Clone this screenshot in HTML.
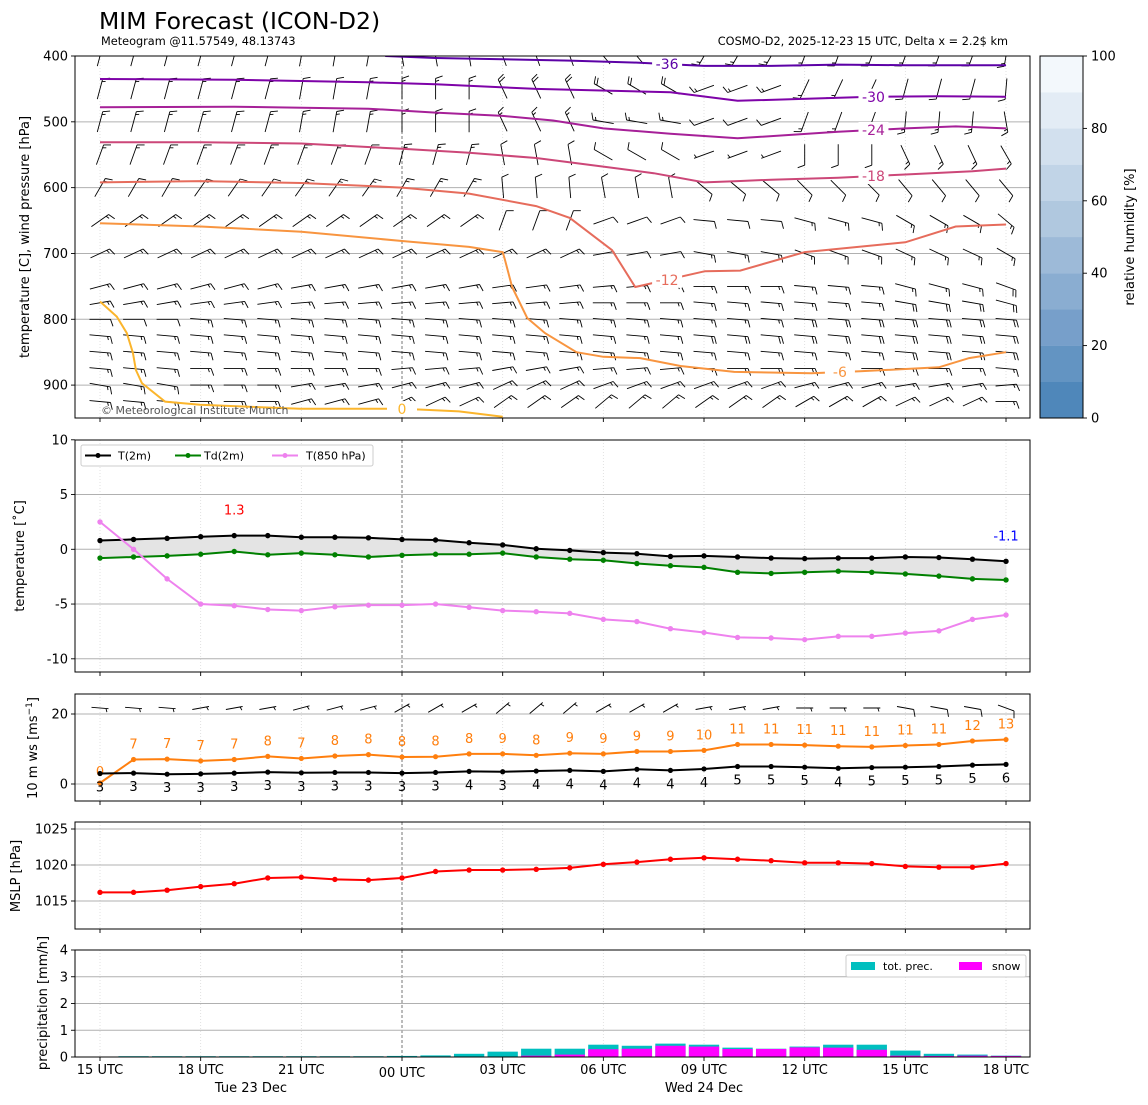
<!DOCTYPE html>
<html><head><meta charset="utf-8"><title>MIM Forecast (ICON-D2)</title>
<style>
html,body{margin:0;padding:0;background:#fff;}
svg{display:block;font-family:"DejaVu Sans","Liberation Sans",sans-serif;}
</style></head>
<body>
<svg id="chart" width="1148" height="1105" viewBox="0 0 1148 1105" xmlns="http://www.w3.org/2000/svg">
<defs>
<clipPath id="clipTop"><rect x="75" y="56" width="955" height="362"/></clipPath>
</defs>
<text x="99" y="29" font-size="23.5">MIM Forecast (ICON-D2)</text>
<text x="101" y="45" font-size="11.3">Meteogram @11.57549, 48.13743</text>
<text x="1008" y="45" font-size="11.3" text-anchor="end">COSMO-D2, 2025-12-23 15 UTC, Delta x = 2.2$ km</text>
<g id="layer"></g>
</svg>
<script>
// ---------- data ----------
const hours = [0,1,2,3,4,5,6,7,8,9,10,11,12,13,14,15,16,17,18,19,20,21,22,23,24,25,26,27];
const xTickHours = [0,3,6,9,12,15,18,21,24,27];
const xTickLabels = ["15 UTC","18 UTC","21 UTC","00 UTC","03 UTC","06 UTC","09 UTC","12 UTC","15 UTC","18 UTC"];
const dayLabels = ["Tue 23 Dec","Wed 24 Dec"];
const dayLabelHours = [4.5,18];

const pressureTicks = [400,500,600,700,800,900];
const barbLevels = [400,450,500,550,600,650,700,750,775,800,825,850,875,900,925];
const barbDir = [
 [75,75,80,100,110,130,240,250,250,260],
 [75,75,80,90,115,150,200,245,255,265],
 [75,75,80,90,115,170,200,250,265,280],
 [70,70,70,75,100,150,200,270,295,300],
 [60,55,55,60,95,100,320,315,310,310],
 [35,35,35,35,70,20,355,345,330,320],
 [25,25,25,25,25,10,350,340,335,330],
 [15,15,10,10,8,5,0,355,345,340],
 [10,8,5,5,5,0,355,355,350,345],
 [0,355,355,355,355,355,355,355,355,355],
 [355,355,355,355,355,355,355,355,355,355],
 [355,355,355,355,355,355,355,355,355,355],
 [355,0,0,5,10,5,0,0,0,355],
 [350,0,10,15,25,20,20,15,10,5],
 [355,0,15,25,35,40,35,30,25,0]
];
const barbSpeed = [
 [15,15,15,15,15,15,15,15,15,15],
 [15,15,15,15,20,20,15,15,15,15],
 [15,15,15,15,15,15,10,15,15,15],
 [15,15,15,15,10,10,5,10,15,15],
 [15,15,15,15,10,10,10,10,10,10],
 [15,15,15,15,10,10,10,15,15,15],
 [15,15,15,15,15,10,15,15,15,15],
 [15,15,15,15,15,15,15,15,15,20],
 [15,15,15,15,15,15,15,15,20,20],
 [10,15,15,15,15,15,15,20,20,20],
 [15,15,15,15,15,15,20,20,20,20],
 [15,15,15,15,15,15,15,15,20,20],
 [15,15,15,15,15,15,15,15,15,15],
 [15,15,15,15,15,15,15,15,15,15],
 [15,15,15,15,15,15,15,15,15,15]
];
const isoLevels = [-36,-30,-24,-18,-12,-6,0];
const isoColors = ["#5c01a6","#7e03a8","#a62098","#cc4778","#e66c5c","#f89540","#fbb52c"];
const isoH = [
 [8.5,10,12,14,16,18,20,22,24,27],
 [0,4,6,8,10,13,17,19,23,25,27],
 [0,4,8,10,12,13.5,15,17,19,22,24,25.5,27],
 [0,3,6,9,11,13,15,16.5,18,19,20,22,24,26,27],
 [0,3,6,9,11,13,14,15.26,15.95,18.03,19.08,21,24,25.5,27],
 [0,3,6,9,11,12,12.07,12.28,12.73,13.26,14.2,15,16.1,17.3,18.9,21.2,22.65,25,25.9,27],
 [0,0.5,0.8,0.98,1.07,1.25,1.94,2.98,5.96,8.64,9.5,10.7,12]
];
const isoP = [
 [400,403,405,407,410,415,415,413,414,414],
 [435,436,438,440,443,450,455,468,462,461,462],
 [478,477,480,486,491,498,510,518,525,515,510,507,510],
 [531,531,533,541,547,555,568,578,592,590,588,585,580,575,571],
 [592,590,593,600,609,628,646,695,751,727,726,698,683,659,656],
 [654,659,667,681,690,698,710,751,798,821,850,857,859,871,880,882,879,873,859,850],
 [773,796,821,851,877,897,925,930,936,936,937,940,948]
];
const isoLabelH = [16.9,23.05,23.05,23.05,16.9,22.05,9];
const rhTicks = [0,20,40,60,80,100];

const tempTicks = [10,5,0,-5,-10];
const t2m  = [0.8,0.9,1.0,1.15,1.25,1.25,1.1,1.1,1.05,0.9,0.85,0.6,0.4,0.05,-0.1,-0.3,-0.4,-0.65,-0.6,-0.7,-0.8,-0.85,-0.8,-0.8,-0.7,-0.75,-0.9,-1.1];
const td2m = [-0.8,-0.7,-0.6,-0.45,-0.2,-0.5,-0.35,-0.5,-0.7,-0.55,-0.45,-0.45,-0.35,-0.7,-0.9,-1.0,-1.3,-1.5,-1.65,-2.1,-2.2,-2.1,-2.0,-2.1,-2.25,-2.45,-2.7,-2.8];
const t850 = [2.5,0.0,-2.7,-5.0,-5.15,-5.5,-5.6,-5.25,-5.1,-5.1,-5.0,-5.3,-5.6,-5.7,-5.85,-6.4,-6.6,-7.25,-7.6,-8.05,-8.1,-8.25,-7.95,-7.95,-7.65,-7.45,-6.4,-6.0];
const tMaxLabel = "1.3", tMinLabel = "-1.1";

const windTicks = [20,0];
const ws10   = [3,3.1,2.8,2.9,3.1,3.4,3.2,3.3,3.3,3.1,3.3,3.6,3.5,3.7,3.9,3.6,4.2,3.9,4.3,5.0,5.0,4.8,4.5,4.7,4.8,5.0,5.4,5.6];
const wsLabels = [3,3,3,3,3,3,3,3,3,3,3,4,3,4,4,4,4,4,4,5,5,5,4,5,5,5,5,6];
const gust   = [0.3,7,7.1,6.6,7.0,7.9,7.3,8.0,8.4,7.7,7.8,8.6,8.6,8.2,8.8,8.6,9.3,9.3,9.6,11.3,11.3,11.1,10.8,10.6,11.0,11.3,12.3,12.7];
const gustLabels = [0,7,7,7,7,8,7,8,8,8,8,8,9,8,9,9,9,9,10,11,11,11,11,11,11,11,12,13];
const wind10Dir = [355,10,15,30,40,30,10,0,350,340];
const wind10Spd = [5,5,5,5,5,5,5,5,10,10];

const mslpTicks = [1025,1020,1015];
const mslp = [1016.2,1016.2,1016.5,1017.0,1017.4,1018.2,1018.3,1018.0,1017.9,1018.2,1019.1,1019.3,1019.3,1019.4,1019.6,1020.1,1020.4,1020.8,1021.0,1020.8,1020.6,1020.3,1020.3,1020.2,1019.8,1019.7,1019.7,1020.2];

const precTicks = [0,1,2,3,4];
const precHours = [1,2,3,4,5,6,7,8,9,10,11,12,13,14,15,16,17,18,19,20,21,22,23,24,25,26,27];
const totPrec = [0.03,0.03,0.03,0.03,0.03,0.03,0.03,0.03,0.04,0.06,0.12,0.2,0.31,0.31,0.46,0.42,0.5,0.46,0.35,0.31,0.39,0.46,0.46,0.24,0.12,0.09,0.05];
const snowPrec = [0,0,0,0,0,0,0,0,0,0,0,0,0.05,0.09,0.29,0.31,0.42,0.39,0.3,0.3,0.36,0.35,0.27,0.05,0.04,0.05,0.04];

// ---------- scales ----------
const X0=75, X1=1030;
const xs = h => 100 + h*33.556;
const panels = {
  top:{y0:56,y1:418}, temp:{y0:440,y1:672}, wind:{y0:694,y1:801}, mslp:{y0:822,y1:929}, prec:{y0:950,y1:1057}
};
const yP = p => 56 + (p-400)*0.6582;
const yT = t => 549.3 - t*10.95;
const yW = v => 784 - v*3.5;
const yM = p => 865 - (p-1020)*7.2;
const yR = r => 1057 - r*26.75;

const NS="http://www.w3.org/2000/svg";
const layer=document.getElementById('layer');
function mk(tag, attrs, parent){
  const e=document.createElementNS(NS,tag);
  for(const k in attrs) e.setAttribute(k,attrs[k]);
  (parent||layer).appendChild(e);
  return e;
}
function txt(s, x, y, size, fill, anchor, parent){
  const t=mk('text',{x:x,y:y,'font-size':size,fill:fill||'#000','text-anchor':anchor||'start'},parent);
  t.textContent=s; return t;
}
function pts(xa, ya){ return xa.map((v,i)=>v.toFixed(1)+','+ya[i].toFixed(1)).join(' '); }

function panelFrame(name, p){
  const g=mk('g',{});
  
  
  xTickHours.forEach((h,i)=>{
    const l=mk('line',{x1:xs(h),x2:xs(h),y1:p.y0,y2:p.y1,stroke:(i===3?'#555':'#dadada'),'stroke-width':0.8,'stroke-dasharray':(i===3?'3,2':'1,2')},g);
    
    
    const t=mk('line',{x1:xs(h),x2:xs(h),y1:p.y1,y2:p.y1+4,stroke:'#000','stroke-width':0.9},g);
    
    
  });
  return g;
}
function hGrid(g, name, ys){
  ys.forEach(y=>{
    const l=mk('line',{x1:X0,x2:X1,y1:y,y2:y,stroke:'#b0b0b0','stroke-width':1},g);
    
    
  });
}
function yTicks(g, name, vals, fy){
  vals.forEach(v=>{
    const y=fy(v);
    mk('line',{x1:X0-4,x2:X0,y1:y,y2:y,stroke:'#000','stroke-width':0.9},g);
    const t=txt(String(v), X0-7, y+4.5, 13, '#000', 'end', g);
    
    
  });
}
function frame(g, name, p){
  const r=mk('rect',{x:X0,y:p.y0,width:X1-X0,height:p.y1-p.y0,fill:'none',stroke:'#000','stroke-width':1},g);
  
  
}
function yLabel(s, x, y, name){
  const t=txt(s, 0, 0, 13, '#000', 'middle');
  t.setAttribute('transform','translate('+x+','+y+') rotate(-90)');
  
  
  return t;
}
function barb(parent, cx, cy, ang, kt, L){
  const a=ang*Math.PI/180, dx=Math.cos(a), dy=-Math.sin(a);
  const px=-dy, py=dx;
  const sx=cx-dx*L/2, sy=cy-dy*L/2, ex=cx+dx*L/2, ey=cy+dy*L/2;
  let d='M'+sx.toFixed(1)+' '+sy.toFixed(1)+'L'+ex.toFixed(1)+' '+ey.toFixed(1);
  let rem=Math.round(kt/5)*5, pos=0;
  while(rem>=10){
    const bx=ex-dx*pos, by=ey-dy*pos;
    d+='M'+bx.toFixed(1)+' '+by.toFixed(1)+'L'+(bx+px*7+dx*2.5).toFixed(1)+' '+(by+py*7+dy*2.5).toFixed(1);
    rem-=10; pos+=3;
  }
  if(rem>=5){
    if(pos===0) pos=2.5;
    const bx=ex-dx*pos, by=ey-dy*pos;
    d+='M'+bx.toFixed(1)+' '+by.toFixed(1)+'L'+(bx+px*3.5+dx*1.2).toFixed(1)+' '+(by+py*3.5+dy*1.2).toFixed(1);
  }
  const e=mk('path',{d:d,stroke:'#000','stroke-width':0.9,fill:'none'},parent);
  
  
}

// ---------- top panel ----------
(function(){
  const p=panels.top, g=panelFrame('upper-air',p);
  hGrid(g,'upper-air',[500,600,700,800,900].map(yP));
  const cg=mk('g',{'clip-path':'url(#clipTop)'},g);
  barbLevels.forEach((lev,li)=>{
    hours.forEach(h=>{
      const k=Math.min(9,Math.floor(h/3));
      barb(cg, xs(h), yP(lev), barbDir[li][k], barbSpeed[li][k], 21);
    });
  });
  isoLevels.forEach((lev,i)=>{
    const pl=mk('polyline',{points:pts(isoH[i].map(xs),isoP[i].map(yP)),fill:'none',stroke:isoColors[i],'stroke-width':2},cg);
    
    
  });
  isoLevels.forEach((lev,i)=>{
    const lh=isoLabelH[i];
    let pp=isoP[i][0];
    for(let j=0;j<isoH[i].length-1;j++){
      if(lh>=isoH[i][j] && lh<=isoH[i][j+1]){ const f=(lh-isoH[i][j])/(isoH[i][j+1]-isoH[i][j]); pp=isoP[i][j]+f*(isoP[i][j+1]-isoP[i][j]); }
    }
    const lx=xs(lh), ly=yP(pp);
    mk('rect',{x:lx-15,y:ly-8,width:30,height:16,fill:'#fff'},cg);
    const t=txt(String(lev), lx, ly+5, 14, isoColors[i], 'middle', cg);
    
    
  });
  const c=txt('© Meteorological Institute Munich', 101, 414, 11, '#555', 'start', g);
  
  
  yTicks(g,'upper-air',pressureTicks,yP);
  frame(g,'upper-air',p);
  yLabel('temperature [C], wind pressure [hPa]', 29, 237, 'upper-air-y-title');
  const cb=mk('g',{});
  
  
  const cols=['#4f87ba','#6394c2','#779fca','#8aadd1','#9dbad8','#b0c8df','#c1d4e7','#d2e0ee','#e3ecf5','#f3f8fc'];
  const cy=v=>418-v*3.62;
  cols.forEach((c,i)=>{ mk('rect',{x:1040,y:cy((i+1)*10),width:43,height:36.4,fill:c},cb); });
  mk('rect',{x:1040,y:56,width:43,height:362,fill:'none',stroke:'#000','stroke-width':1},cb);
  rhTicks.forEach(v=>{
    mk('line',{x1:1083,x2:1087,y1:cy(v),y2:cy(v),stroke:'#000','stroke-width':0.9},cb);
    txt(String(v),1091,cy(v)+4.5,13,'#000','start',cb);
  });
  yLabel('relative humidity [%]', 1134, 237, 'colorbar-title');
})();

// ---------- temperature panel ----------
(function(){
  const p=panels.temp, g=panelFrame('temperature',p);
  hGrid(g,'temperature',[5,0,-5,-10].map(yT));
  const X=hours.map(xs);
  const fill=mk('polygon',{points:pts(X.concat(X.slice().reverse()), t2m.map(yT).concat(td2m.map(yT).reverse())),fill:'#e4e4e4',stroke:'#cfcfcf','stroke-width':0.5},g);
  
  
  [[t2m,'#000','t2m'],[td2m,'#008000','td2m'],[t850,'#ee82ee','t850']].forEach(s=>{
    const sg=mk('g',{},g);
    
    
    mk('polyline',{points:pts(X,s[0].map(yT)),fill:'none',stroke:s[1],'stroke-width':2},sg);
    s[0].forEach((v,i)=>{ mk('circle',{cx:X[i],cy:yT(v),r:2.7,fill:s[1]},sg); });
  });
  const imax=t2m.indexOf(Math.max(...t2m));
  const a=txt(tMaxLabel, xs(imax), yT(t2m[imax])-21, 13, '#f00', 'middle', g);
   
  const b=txt(tMinLabel, xs(27), yT(t2m[27])-21, 13, '#00f', 'middle', g);
   
  const lg=mk('g',{},g);
  
  
  mk('rect',{x:81,y:445,width:292,height:21,fill:'#fff',stroke:'#ccc','stroke-width':1,rx:2},lg);
  [[85,'#000','T(2m)',118],[175,'#008000','Td(2m)',204],[272,'#ee82ee','T(850 hPa)',306]].forEach(e=>{
    mk('line',{x1:e[0],x2:e[0]+26,y1:455.5,y2:455.5,stroke:e[1],'stroke-width':2},lg);
    mk('circle',{cx:e[0]+13,cy:455.5,r:2.5,fill:e[1]},lg);
    const t=txt(e[2],e[3],459.5,11,'#000','start',lg);
     
  });
  yTicks(g,'temperature',tempTicks,yT);
  frame(g,'temperature',p);
  yLabel('temperature [˚C]', 24, 556, 'temperature-y-title');
})();

// ---------- wind panel ----------
(function(){
  const p=panels.wind, g=panelFrame('wind',p);
  hGrid(g,'wind',[20,0].map(yW));
  const X=hours.map(xs);
  hours.forEach(h=>{
    const k=Math.min(9,Math.floor(h/3));
    barb(g, xs(h), 708, wind10Dir[k], wind10Spd[k], 17);
  });
  const og=mk('g',{},g);
   
  mk('polyline',{points:pts(X,gust.map(yW)),fill:'none',stroke:'#ff7f0e','stroke-width':2},og);
  gust.forEach((v,i)=>{ mk('circle',{cx:X[i],cy:yW(v),r:2.6,fill:'#ff7f0e'},og); txt(String(gustLabels[i]),X[i],yW(v)-(i===0?7:11),13,'#ff7f0e','middle',og); });
  const kg=mk('g',{},g);
   
  mk('polyline',{points:pts(X,ws10.map(yW)),fill:'none',stroke:'#000','stroke-width':2},kg);
  ws10.forEach((v,i)=>{ mk('circle',{cx:X[i],cy:yW(v),r:2.6,fill:'#000'},kg); txt(String(wsLabels[i]),X[i],yW(v)+18,13,'#000','middle',kg); });
  yTicks(g,'wind',windTicks,yW);
  frame(g,'wind',p);
  const t=mk('text',{x:0,y:0,'font-size':13,'text-anchor':'middle',transform:'translate(37,748) rotate(-90)'});
  t.innerHTML='10 m ws [ms<tspan baseline-shift="super" font-size="9">−1</tspan>]';
   
})();

// ---------- MSLP panel ----------
(function(){
  const p=panels.mslp, g=panelFrame('mslp',p);
  hGrid(g,'mslp',[1025,1020,1015].map(yM));
  const X=hours.map(xs);
  const sg=mk('g',{},g);
   
  mk('polyline',{points:pts(X,mslp.map(yM)),fill:'none',stroke:'#f00','stroke-width':2},sg);
  mslp.forEach((v,i)=>mk('circle',{cx:X[i],cy:yM(v),r:2.7,fill:'#f00'},sg));
  yTicks(g,'mslp',mslpTicks,yM);
  frame(g,'mslp',p);
  yLabel('MSLP [hPa]', 20, 876, 'mslp-y-title');
})();

// ---------- precipitation panel ----------
(function(){
  const p=panels.prec, g=panelFrame('precip',p);
  hGrid(g,'precip',[1,2,3].map(yR));
  const w=30.3;
  precHours.forEach((h,i)=>{
    const r=mk('rect',{x:xs(h)-w/2,y:yR(totPrec[i]),width:w,height:yR(0)-yR(totPrec[i]),fill:'#00bfbf'},g);
     
    if(snowPrec[i]>0){
      const s=mk('rect',{x:xs(h)-w/2,y:yR(snowPrec[i]),width:w,height:yR(0)-yR(snowPrec[i]),fill:'#ff00ff'},g);
       
    }
  });
  const lg=mk('g',{},g);
   
  mk('rect',{x:846,y:955,width:180,height:22,fill:'#fff',stroke:'#ccc','stroke-width':1,rx:2},lg);
  mk('rect',{x:851,y:962,width:24,height:8,fill:'#00bfbf'},lg);
  txt('tot. prec.',883,970,11,'#000','start',lg);
  mk('rect',{x:959,y:962,width:23,height:8,fill:'#ff00ff'},lg);
  txt('snow',992,970,11,'#000','start',lg);
  yTicks(g,'precip',precTicks,yR);
  frame(g,'precip',p);
  yLabel('precipitation [mm/h]', 47, 1003, 'precip-y-title');
  xTickHours.forEach((h,i)=>{
    const t=txt(xTickLabels[i], xs(h), i===3?1077:1074, 13, '#000', 'middle');
     
  });
  dayLabels.forEach((d,i)=>{
    const t=txt(d, xs(dayLabelHours[i]), 1092, 13, '#000', 'middle');
     
  });
})();
</script>
</body></html>
